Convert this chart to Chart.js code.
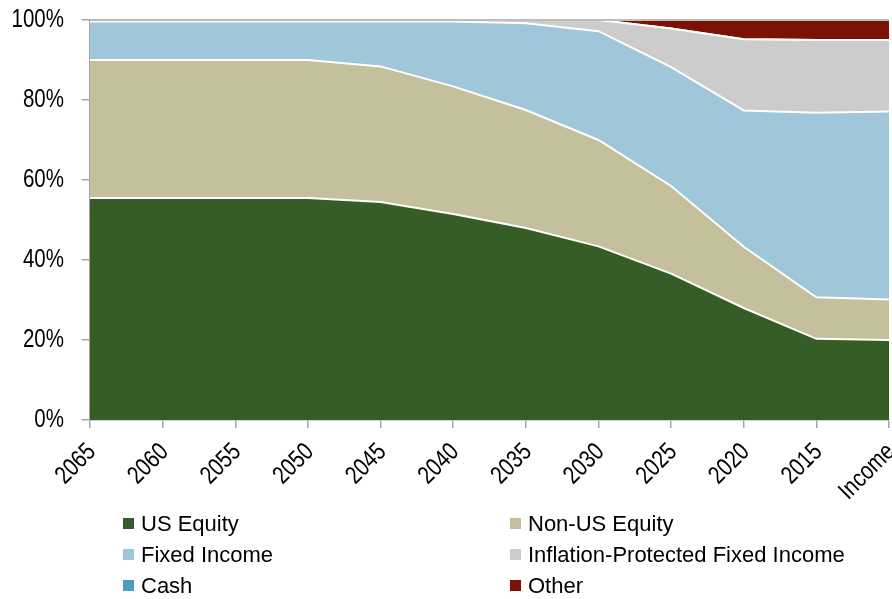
<!DOCTYPE html>
<html>
<head>
<meta charset="utf-8">
<script src="https://cdn.jsdelivr.net/npm/chart.js@4/dist/chart.umd.min.js"></script>
<style>
  html, body { margin: 0; padding: 0; background: #fff; }
  #wrap { position: relative; width: 892px; height: 599px; }
  #glidePath { position: absolute; left: 0; top: 0; }
  .legend { position: absolute; left: 0; top: 508px; width: 892px; font-family: "Liberation Sans", Arial, sans-serif; font-size: 22px; color: #000; }
  .legend-item { position: absolute; display: flex; align-items: center; white-space: nowrap; height: 31px; }
  .legend-box { width: 11px; height: 11px; margin-right: 7px; }
</style>
</head>
<body>
<div id="wrap">
  <canvas id="glidePath" width="892" height="599"></canvas>
  <div class="legend" id="legend"></div>
</div>
<script>
const vintages = ['2065', '2060', '2055', '2050', '2045', '2040', '2035', '2030', '2025', '2020', '2015', 'Income'];

// allocation by vintage, % of portfolio
const usEquity = [55.5, 55.5, 55.5, 55.5, 54.5, 51.5, 48.0, 43.4, 36.6, 28.0, 20.3, 20.0];
const nonUsEquity = [34.5, 34.5, 34.5, 34.5, 33.9, 31.9, 29.5, 26.6, 21.9, 15.3, 10.4, 10.1];
const fixedIncome = [9.6, 9.6, 9.6, 9.6, 11.2, 16.2, 21.7, 27.2, 29.7, 34.1, 46.1, 47.0];
const inflationProtected = [0.4, 0.4, 0.4, 0.4, 0.4, 0.4, 0.8, 2.8, 9.7, 17.8, 18.2, 17.9];
const cash = [0, 0, 0, 0, 0, 0, 0, 0, 0, 0, 0, 0];
const other = [0, 0, 0, 0, 0, 0, 0, 0, 2.1, 4.8, 5.0, 5.0];

const yTicks = [0, 20, 40, 60, 80, 100];

const series = [
    { label: 'US Equity', data: usEquity, color: '#365d25' },
    { label: 'Non-US Equity', data: nonUsEquity, color: '#c4c09b' },
    { label: 'Fixed Income', data: fixedIncome, color: '#9fc6d9' },
    { label: 'Inflation-Protected Fixed Income', data: inflationProtected, color: '#cccccc' },
    { label: 'Cash', data: cash, color: '#4f9cc3' },
    { label: 'Other', data: other, color: '#7b1204' },
];

const axisColor = '#a6a6a6';
const narrow = 0.82; // squeeze Liberation Sans to a narrow face

// thin frame line along the top of the plot
const topFrame = {
    id: 'topFrame',
    afterDatasetsDraw(chart) {
        const { ctx, chartArea } = chart;
        ctx.save();
        ctx.strokeStyle = axisColor;
        ctx.lineWidth = 1.5;
        ctx.beginPath();
        ctx.moveTo(chartArea.left, chartArea.top);
        ctx.lineTo(chartArea.right, chartArea.top);
        ctx.stroke();
        ctx.restore();
    },
};

// axis labels in a condensed style, placed from the scales
const narrowLabels = {
    id: 'narrowLabels',
    afterDraw(chart) {
        const { ctx } = chart;
        const xs = chart.scales.x;
        const ys = chart.scales.y;
        ctx.save();
        ctx.fillStyle = '#000';

        ctx.font = '25px "Liberation Sans", Arial, sans-serif';
        ctx.textAlign = 'right';
        ctx.textBaseline = 'middle';
        ys.ticks.forEach((t, i) => {
            ctx.save();
            ctx.translate(ys.right - 26, ys.getPixelForTick(i));
            ctx.scale(narrow, 1);
            ctx.fillText(t.value + '%', 0, 0);
            ctx.restore();
        });

        ctx.font = '25px "Liberation Sans", Arial, sans-serif';
        xs.ticks.forEach((t, i) => {
            ctx.save();
            ctx.translate(xs.getPixelForTick(i) + 2, xs.top + 28);
            ctx.rotate(-Math.PI / 4);
            ctx.scale(narrow, 1);
            ctx.fillText(chart.data.labels[i], 0, 0);
            ctx.restore();
        });
        ctx.restore();
    },
};

new Chart(document.getElementById('glidePath'), {
    type: 'line',
    data: {
        labels: vintages,
        datasets: series.map((s, i) => ({
            label: s.label,
            data: s.data,
            backgroundColor: s.color,
            borderColor: '#ffffff',
            borderWidth: 2,
            pointRadius: 0,
            tension: 0,
            fill: i === 0 ? 'origin' : '-1',
        })),
    },
    options: {
        responsive: false,
        animation: false,
        layout: { padding: { top: 20, right: 3 } },
        plugins: {
            legend: { display: false },
            tooltip: { enabled: false },
        },
        scales: {
            x: {
                offset: false,
                grid: { drawOnChartArea: false, color: axisColor, tickLength: 8, lineWidth: 1.5 },
                border: { color: axisColor, width: 1.5 },
                ticks: { display: false, autoSkip: false },
                afterFit(scale) { scale.height = 179; },
            },
            y: {
                stacked: true,
                min: 0,
                max: 100,
                afterBuildTicks(scale) { scale.ticks = yTicks.map((v) => ({ value: v })); },
                grid: { drawOnChartArea: false, color: axisColor, tickLength: 8, lineWidth: 1.5 },
                border: { color: axisColor, width: 1.5 },
                ticks: { display: false },
                afterFit(scale) { scale.width = 90; },
            },
        },
    },
    plugins: [topFrame, narrowLabels],
});

// two-column legend under the plot
const legendEl = document.getElementById('legend');
series.forEach((s, i) => {
    const item = document.createElement('div');
    item.className = 'legend-item';
    item.style.left = (i % 2 === 0 ? 123 : 510) + 'px';
    item.style.top = (Math.floor(i / 2) * 31) + 'px';
    const box = document.createElement('span');
    box.className = 'legend-box';
    box.style.background = s.color;
    const text = document.createElement('span');
    text.textContent = s.label;
    item.appendChild(box);
    item.appendChild(text);
    legendEl.appendChild(item);
});
</script>
</body>
</html>
